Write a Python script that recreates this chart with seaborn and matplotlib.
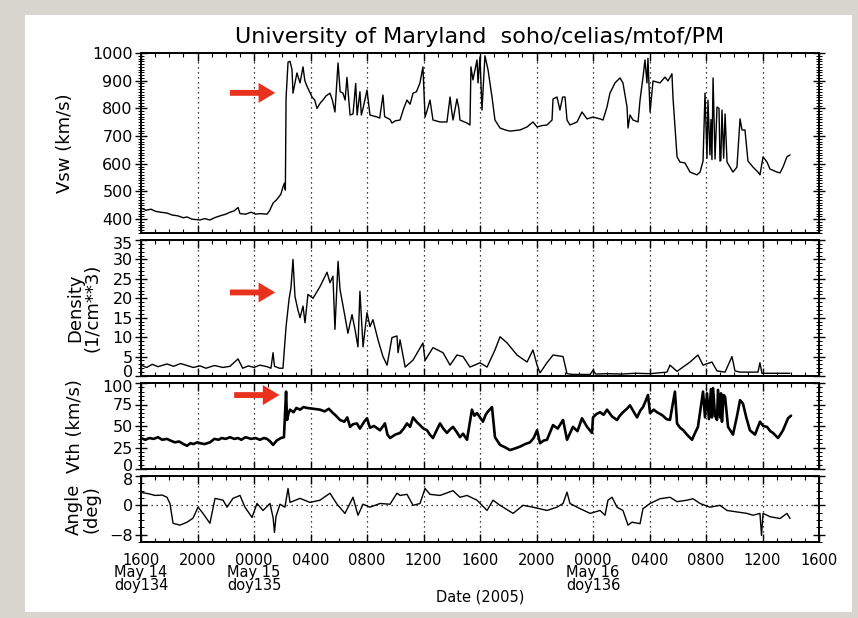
import matplotlib
matplotlib.use("Agg")
import matplotlib.pyplot as plt
from matplotlib.patches import Rectangle
from matplotlib.ticker import MultipleLocator, FixedLocator
from matplotlib.transforms import ScaledTranslation
import pandas as pd
import seaborn as sns

# Time axis: hours since 2005 May 14 16:00 UT (doy 134)
tick_hours = [0, 4, 8, 12, 16, 20, 24, 28, 32, 36, 40, 44, 48]
tick_labels = ["1600\nMay 14\ndoy134", "2000", "0000\nMay 15\ndoy135", "0400",
               "0800", "1200", "1600", "2000", "0000\nMay 16\ndoy136", "0400",
               "0800", "1200", "1600"]

# Solar wind speed (km/s)
vsw_hours = [0.00, 0.35, 0.70, 1.05, 1.40, 1.84, 2.20, 2.60, 3.00, 3.26, 3.60, 4.18, 4.50,
             4.88, 5.20, 5.60, 6.00, 6.30, 6.60, 6.87, 7.01, 7.40, 7.80, 8.10, 8.42, 8.92,
             9.10, 9.35, 9.60, 9.90, 10.05, 10.15, 10.22, 10.27, 10.41, 10.55, 10.69, 10.76,
             11.04, 11.26, 11.47, 11.60, 11.75, 12.11, 12.30, 12.46, 12.70, 12.88, 13.10,
             13.38, 13.55, 13.73, 13.95, 14.10, 14.30, 14.45, 14.58, 14.80, 15.01, 15.20,
             15.30, 15.50, 15.60, 15.72, 16.00, 16.21, 16.50, 16.71, 16.90, 17.13, 17.25,
             17.63, 17.77, 18.00, 18.34, 18.60, 18.83, 19.05, 19.26, 19.50, 19.75, 19.96,
             20.11, 20.30, 20.46, 20.67, 21.17, 21.66, 21.88, 22.00, 22.09, 22.37, 22.50,
             22.58, 23.08, 23.29, 23.36, 23.50, 23.79, 23.86, 24.00, 24.14, 24.35, 24.57,
             24.85, 25.06, 25.42, 25.80, 26.12, 26.50, 26.83, 27.33, 27.75, 28.04, 28.40,
             28.74, 29.10, 29.17, 29.45, 29.66, 29.85, 30.02, 30.16, 30.37, 30.87, 31.22,
             31.58, 32.00, 32.50, 32.71, 32.99, 33.20, 33.56, 33.91, 34.12, 34.41, 34.48,
             34.62, 34.83, 35.19, 35.33, 35.54, 35.68, 35.82, 35.89, 36.04, 36.25, 36.74,
             37.10, 37.31, 37.59, 37.66, 37.95, 38.16, 38.51, 38.87, 39.36, 39.58, 39.79,
             39.93, 40.07, 40.14, 40.28, 40.35, 40.42, 40.50, 40.64, 40.78, 40.92, 40.99,
             41.05, 41.13, 41.25, 41.35, 41.49, 41.70, 41.91, 42.19, 42.41, 42.55, 42.76,
             42.97, 43.33, 43.68, 43.82, 44.04, 44.32, 44.53, 45.03, 45.24, 45.45, 45.73,
             45.95]
vsw_kms = [440, 432, 436, 428, 425, 422, 415, 412, 405, 408, 400, 397, 402,
           397, 405, 412, 418, 425, 430, 442, 420, 418, 425, 418, 420, 418,
           430, 458, 470, 490, 516, 530, 505, 837, 967, 970, 940, 855,
           928, 892, 950, 900, 880, 841, 830, 800, 820, 830, 845,
           855, 830, 787, 964, 860, 855, 830, 912, 776, 780, 890,
           776, 860, 776, 800, 866, 776, 772, 769, 765, 848, 770,
           760, 747, 755, 758, 800, 830, 815, 855, 860, 892, 950,
           769, 800, 830, 758, 751, 751, 841, 790, 758, 834, 800,
           758, 747, 740, 950, 903, 975, 892, 986, 794, 990, 939,
           841, 758, 729, 722, 718, 720, 722, 733, 751, 733, 738,
           740, 758, 834, 841, 794, 841, 841, 758, 740, 751, 787,
           762, 769, 762, 758, 805, 855, 892, 910, 892, 805, 729,
           776, 758, 751, 830, 913, 975, 892, 981, 787, 899, 892,
           913, 899, 925, 841, 625, 606, 603, 570, 560, 570, 610,
           855, 620, 830, 632, 760, 615, 910, 617, 805, 800, 610,
           612, 794, 620, 780, 606, 588, 570, 588, 762, 722, 722,
           610, 588, 570, 560, 625, 606, 581, 570, 567, 588, 625,
           632]

# Proton density (1/cm^3)
dens_hours = [0.00, 0.40, 0.80, 1.20, 1.84, 2.30, 2.80, 3.26, 3.70, 4.18, 4.60, 5.20, 5.80,
              6.30, 6.87, 7.20, 7.60, 8.00, 8.42, 8.92, 9.20, 9.35, 9.45, 9.80, 10.05,
              10.27, 10.48, 10.62, 10.76, 10.90, 11.11, 11.26, 11.47, 11.61, 11.82, 12.18,
              12.67, 13.17, 13.38, 13.59, 13.73, 13.95, 14.09, 14.44, 14.65, 14.94, 15.15,
              15.36, 15.50, 15.72, 16.00, 16.21, 16.42, 16.78, 17.13, 17.42, 17.77, 18.12,
              18.20, 18.34, 18.70, 19.26, 19.96, 20.11, 20.67, 21.38, 21.88, 22.37, 22.80,
              23.29, 24.00, 24.50, 25.06, 25.42, 25.92, 26.62, 27.33, 27.75, 28.04, 28.25,
              28.74, 29.17, 29.88, 30.16, 30.58, 31.20, 31.80, 32.00, 32.20, 33.00, 34.00,
              35.00, 36.04, 37.24, 37.45, 37.95, 38.87, 39.43, 39.79, 40.42, 40.78, 41.35,
              41.84, 42.05, 42.41, 43.68, 43.82, 43.96, 44.50, 45.95]
dens_cc = [2.8, 2.2, 3.0, 2.4, 3.1, 2.5, 3.2, 2.7, 2.2, 2.6, 2.0, 2.7, 2.2,
           2.5, 4.4, 2.0, 2.6, 2.2, 2.8, 2.4, 2.0, 6.0, 2.5, 2.0, 2.0,
           12.7, 19.7, 22.8, 30.0, 20.5, 17.0, 15.0, 18.0, 13.7, 21.0, 20.0,
           23.0, 26.7, 24.0, 25.7, 12.0, 29.5, 22.3, 15.3, 11.0, 15.8, 12.0,
           7.5, 21.8, 7.5, 16.3, 12.7, 14.5, 9.3, 5.0, 2.8, 9.9, 10.3,
           6.0, 9.3, 2.3, 4.1, 8.5, 4.0, 7.3, 6.0, 2.8, 5.4, 5.0,
           2.3, 3.4, 2.3, 6.7, 10.1, 8.5, 5.4, 3.6, 6.7, 2.8, 0.8,
           3.4, 5.4, 5.0, 0.6, 0.4, 0.4, 0.4, 1.5, 0.5, 0.6, 0.5,
           0.7, 0.6, 1.0, 2.8, 1.2, 3.6, 5.4, 2.8, 3.6, 1.3, 1.0,
           5.0, 1.3, 1.0, 1.0, 3.4, 0.7, 0.7, 0.7]

# Thermal speed (km/s)
vth_hours = [0.00, 0.30, 0.60, 0.90, 1.20, 1.50, 1.84, 2.10, 2.40, 2.70, 3.00, 3.26, 3.50,
             3.70, 4.00, 4.18, 4.50, 4.88, 5.20, 5.50, 5.70, 6.00, 6.30, 6.60, 6.87, 7.10,
             7.40, 7.80, 8.10, 8.42, 8.70, 8.92, 9.15, 9.35, 9.60, 9.90, 10.12, 10.27, 10.34,
             10.45, 10.55, 10.80, 11.00, 11.26, 11.50, 11.75, 12.20, 12.67, 13.00, 13.30,
             13.59, 13.80, 14.09, 14.40, 14.60, 14.80, 15.00, 15.29, 15.50, 15.80, 16.00,
             16.21, 16.50, 16.92, 17.10, 17.27, 17.45, 17.63, 18.00, 18.34, 18.60, 18.83,
             19.05, 19.26, 19.50, 19.75, 20.00, 20.25, 20.45, 20.67, 20.90, 21.17, 21.40,
             21.66, 21.88, 22.09, 22.35, 22.58, 22.80, 23.08, 23.43, 23.60, 23.79, 24.00,
             24.21, 24.40, 24.57, 24.85, 25.06, 25.42, 25.80, 26.12, 26.50, 26.83, 27.20,
             27.54, 27.80, 28.04, 28.25, 28.50, 28.74, 29.17, 29.50, 29.88, 30.16, 30.58,
             30.90, 31.22, 31.58, 31.93, 32.00, 32.25, 32.50, 32.75, 32.99, 33.35, 33.70,
             33.90, 34.12, 34.40, 34.62, 34.90, 35.12, 35.35, 35.54, 35.75, 35.89, 36.04,
             36.30, 36.53, 36.75, 36.95, 37.20, 37.45, 37.80, 37.95, 38.16, 38.40, 38.65,
             39.01, 39.20, 39.43, 39.79, 39.93, 40.07, 40.21, 40.35, 40.42, 40.50, 40.64,
             40.78, 40.85, 40.99, 41.06, 41.13, 41.25, 41.35, 41.56, 41.91, 42.20, 42.41,
             42.62, 42.85, 43.11, 43.47, 43.82, 44.05, 44.32, 44.55, 44.74, 45.10, 45.30,
             45.45, 45.81, 46.02]
vth_kms = [36, 34, 36, 35, 37, 34, 35, 33, 31, 32, 29, 27, 30,
           29, 31, 30, 29, 31, 35, 34, 36, 35, 37, 35, 36, 34,
           37, 35, 36, 34, 36, 35, 32, 28, 33, 36, 37, 90, 57,
           65, 69, 66, 71, 69, 72, 71, 70, 69, 67, 70,
           65, 62, 57, 55, 60, 49, 52, 53, 47, 55, 59,
           48, 50, 45, 49, 53, 40, 36, 40, 42, 47, 53,
           49, 60, 55, 51, 47, 45, 40, 36, 44, 53, 47,
           42, 46, 49, 43, 37, 41, 34, 69, 62, 65, 60,
           55, 63, 67, 72, 37, 28, 25, 22, 24, 26, 29,
           31, 36, 45, 30, 33, 34, 51, 47, 57, 34, 49,
           44, 59, 49, 42, 60, 64, 66, 63, 69, 61, 57,
           62, 66, 70, 74, 66, 60, 68, 72, 80, 86, 65,
           69, 66, 64, 62, 58, 57, 90, 53, 48, 45, 40,
           34, 41, 49, 90, 60, 88, 58, 93, 60, 94, 62,
           57, 92, 60, 88, 55, 86, 84, 49, 40, 62, 80,
           76, 60, 45, 40, 55, 50, 49, 44, 42, 36, 41,
           45, 59, 62]

# Flow angle (deg)
ang_hours = [0.00, 0.50, 0.99, 1.50, 1.84, 2.05, 2.27, 2.76, 3.26, 3.68, 4.04, 4.39, 4.88,
             5.24, 5.81, 6.09, 6.51, 7.01, 7.36, 7.86, 8.21, 8.64, 9.13, 9.35, 9.45, 9.56,
             9.84, 10.19, 10.41, 10.55, 11.26, 11.96, 12.67, 13.38, 13.88, 14.44, 15.01,
             15.36, 15.72, 16.21, 16.92, 17.63, 18.12, 18.34, 18.83, 19.26, 19.75, 20.11,
             20.46, 21.17, 22.09, 22.58, 23.08, 23.79, 24.50, 24.92, 25.42, 26.34, 27.05,
             27.75, 28.74, 29.45, 29.88, 30.16, 30.37, 31.08, 31.80, 32.50, 32.85, 33.06,
             33.35, 33.70, 34.12, 34.48, 34.76, 35.33, 35.54, 36.04, 36.74, 37.45, 37.95,
             38.65, 39.08, 39.58, 40.28, 40.99, 41.49, 42.19, 42.90, 43.33, 43.82, 43.93,
             44.04, 44.53, 45.24, 45.73, 45.95]
ang_deg = [3.5, 3.2, 2.7, 2.8, 2.2, 0.5, -4.9, -5.4, -4.6, -3.5, -0.5, -2.2, -4.9,
           1.9, 1.4, -0.5, 1.9, 2.7, -0.5, -3.3, 0.5, -1.4, 0.5, -3.3, -7.4, -3.0,
           0.3, -0.5, 4.6, 0.8, 1.9, 0.8, 1.4, 3.3, 0.3, -2.2, 2.2,
           -2.7, 0.3, -0.5, 0.5, 0.3, 3.3, 2.7, 3.0, 0.0, 0.5, 4.6,
           3.0, 2.7, 4.0, 2.2, 2.7, 1.4, -1.4, 1.4, 0.0, -2.2, 0.0,
           -0.5, -1.4, -0.5, 0.5, 3.6, 0.5, -0.9, -2.2, -1.4, -2.7, 1.4,
           2.2, -0.5, -1.4, -5.4, -4.6, -5.0, -0.9, 0.5, 1.8, 2.2, 1.0,
           1.4, 1.8, 0.5, -0.5, 0.0, -1.4, -1.8, -2.2, -2.7, -2.2, -8.2,
           -2.2, -3.1, -3.6, -2.2, -3.6]

sns.set_theme(style="white")
plt.rcParams["font.family"] = ["DejaVu Sans"]
plt.rcParams["axes.linewidth"] = 1.4
for key in ("text.color", "axes.labelcolor", "xtick.color", "ytick.color"):
    plt.rcParams[key] = "black"

W, H = 858, 618
fig = plt.figure(figsize=(W / 100, H / 100), dpi=100)
fig.patch.set_facecolor("#d9d6d0")
fig.add_artist(Rectangle((25 / W, 1 - 612 / H), (852 - 25) / W, (612 - 15) / H,
                         transform=fig.transFigure, facecolor="white",
                         edgecolor="none", zorder=0))

left, right = 141, 819


def add_panel(top, bottom):
    return fig.add_axes([left / W, 1 - bottom / H, (right - left) / W, (bottom - top) / H])


ax1 = add_panel(53, 233)
ax2 = add_panel(240, 376)
ax3 = add_panel(383, 469)
ax4 = add_panel(476, 542)

# axis, x, y, line width, y range, y ticks, minor step, label, label x (axes fraction),
# pixel nudge of the lowest / highest tick label toward the panel interior
panels = [
    (ax1, vsw_hours, vsw_kms, 1.0, (350, 1000), [400, 500, 600, 700, 800, 900, 1000], 10,
     "Vsw (km/s)", -0.112, 0, 0),
    (ax2, dens_hours, dens_cc, 1.0, (0, 35), [0, 5, 10, 15, 20, 25, 30, 35], 1,
     "Density\n(1/cm**3)", -0.084, 5, 3),
    (ax3, vth_hours, vth_kms, 1.9, (0, 100), [0, 25, 50, 75, 100], 5, "Vth (km/s)",
     -0.097, 4, 3),
    (ax4, ang_hours, ang_deg, 1.0, (-10, 8), [-8, 0, 8], 2, "Angle\n(deg)", -0.086,
     0, 3),
]

for (ax, xs, ys, lw, ylim, yticks, yminor, ylabel, labx,
     nudge_low, nudge_high) in panels:
    ax.set_facecolor("white")
    df = pd.DataFrame({"hour": xs, "value": ys})
    sns.lineplot(data=df, x="hour", y="value", ax=ax, color="black", linewidth=lw,
                 estimator=None, sort=False, zorder=3)
    for h in tick_hours[1:-1]:
        ax.axvline(h, color="black", linestyle=(0, (1, 3)), linewidth=0.9, zorder=1)
    ax.set_xlim(0, 48)
    ax.set_ylim(*ylim)
    ax.xaxis.set_major_locator(FixedLocator(tick_hours))
    ax.xaxis.set_minor_locator(MultipleLocator(1))
    ax.yaxis.set_major_locator(FixedLocator(yticks))
    ax.yaxis.set_minor_locator(MultipleLocator(yminor))
    ax.tick_params(axis="x", which="both", direction="in", top=True, bottom=True,
                   labelbottom=False)
    ax.tick_params(axis="x", which="major", length=6, width=1.0)
    ax.tick_params(axis="x", which="minor", length=3, width=0.8)
    ax.tick_params(axis="y", which="both", direction="inout", left=True, right=True,
                   labelsize=11.5, pad=2)
    ax.tick_params(axis="y", which="major", length=8, width=1.0)
    ax.tick_params(axis="y", which="minor", length=4, width=0.7)
    ax.set_ylabel(ylabel, fontsize=13, linespacing=0.95)
    ax.yaxis.label.set_va("center")
    ax.yaxis.set_label_coords(labx, 0.5)
    ax.set_xlabel("")
    labels = ax.get_yticklabels()
    if nudge_low:
        labels[0].set_transform(labels[0].get_transform() +
                                ScaledTranslation(0, nudge_low / 100, fig.dpi_scale_trans))
    if nudge_high:
        labels[-1].set_transform(labels[-1].get_transform() +
                                 ScaledTranslation(0, -nudge_high / 100, fig.dpi_scale_trans))
    for sp in ax.spines.values():
        sp.set_color("black")
        sp.set_linewidth(1.4)

ax4.axhline(0, color="black", linestyle=(0, (1, 3)), linewidth=0.9, zorder=1)

ax4.tick_params(axis="x", which="major", labelbottom=True, labelsize=10.5, pad=8)
ax4.set_xticklabels(tick_labels, linespacing=0.78)
ax4.set_xlabel("Date (2005)", fontsize=10.5)
ax4.xaxis.set_label_coords(0.5, -0.72)

ax1.set_title("University of Maryland  soho/celias/mtof/PM", fontsize=16, pad=7)

# Red arrows marking the shock arrival
arrow_kw = dict(arrowstyle="simple,head_width=1.2,head_length=1.0,tail_width=0.35",
                color="#e8321e", lw=0)
ax1.annotate("", xy=(9.70, 856), xytext=(6.1, 856), arrowprops=arrow_kw, zorder=5)
ax2.annotate("", xy=(9.70, 21.5), xytext=(6.1, 21.5), arrowprops=arrow_kw, zorder=5)
ax3.annotate("", xy=(10.0, 86), xytext=(6.4, 86), arrowprops=arrow_kw, zorder=5)

fig.savefig("out.png", dpi=100)
